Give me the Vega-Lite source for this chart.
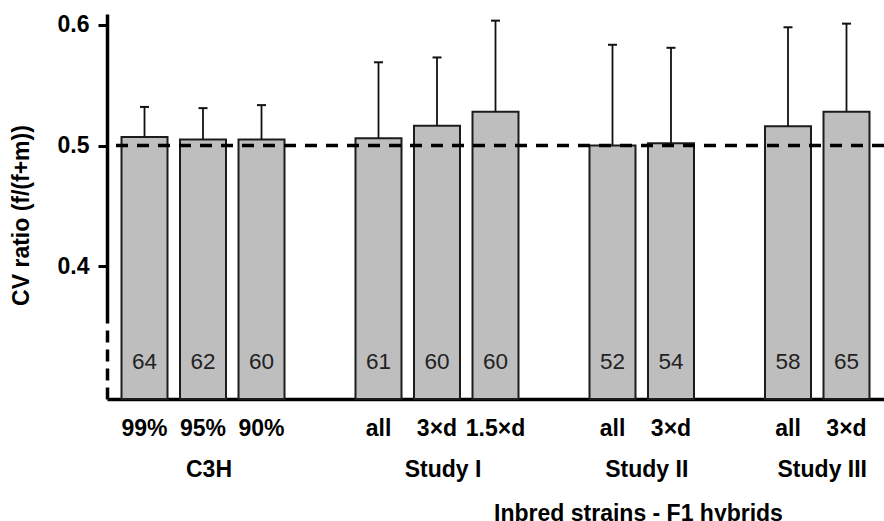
{
  "$schema": "https://vega.github.io/schema/vega-lite/v6.json",
  "width": 777,
  "height": 385,
  "autosize": {"type": "none"},
  "padding": {"left": 107, "top": 14, "right": 0, "bottom": 122},
  "background": "white",
  "config": {"view": {"stroke": null}, "font": "Liberation Sans"},
  "datasets": {
    "bars": [
      {"cat": "C3H|99%", "ratio": 0.507, "upper": 0.532, "n": 64},
      {"cat": "C3H|95%", "ratio": 0.505, "upper": 0.531, "n": 62},
      {"cat": "C3H|90%", "ratio": 0.505, "upper": 0.5335, "n": 60},
      {"cat": "Study I|all", "ratio": 0.506, "upper": 0.569, "n": 61},
      {"cat": "Study I|3×d", "ratio": 0.5165, "upper": 0.573, "n": 60},
      {"cat": "Study I|1.5×d", "ratio": 0.528, "upper": 0.6035, "n": 60},
      {"cat": "Study II|all", "ratio": 0.5, "upper": 0.5835, "n": 52},
      {"cat": "Study II|3×d", "ratio": 0.502, "upper": 0.581, "n": 54},
      {"cat": "Study III|all", "ratio": 0.516, "upper": 0.598, "n": 58},
      {"cat": "Study III|3×d", "ratio": 0.528, "upper": 0.601, "n": 65}
    ],
    "groupsOdd": [
      {"cat": "C3H|95%", "label": "C3H"},
      {"cat": "Study I|3×d", "label": "Study I"}
    ],
    "groupsEven": [
      {"cat": "Study II|all", "label": "Study II"},
      {"cat": "Study III|all", "label": "Study III"}
    ]
  },
  "layer": [
    {
      "data": {"name": "bars"},
      "mark": {"type": "bar", "fill": "#bebebe", "stroke": "#1c1c1c", "strokeWidth": 2},
      "encoding": {
        "x": {
          "field": "cat", "type": "nominal", "sort": null,
          "scale": {
            "domain": ["C3H|99%", "C3H|95%", "C3H|90%", "gap1", "Study I|all", "Study I|3×d", "Study I|1.5×d", "gap2", "Study II|all", "Study II|3×d", "gap3", "Study III|all", "Study III|3×d"],
            "paddingInner": 0.2137, "paddingOuter": 0.248
          },
          "axis": {
            "title": "Inbred strains - F1 hybrids",
            "labelExpr": "indexof(datum.value, 'gap') === 0 ? '' : split(datum.value, '|')[1]",
            "labelAngle": 0,
            "labelFontSize": 23, "labelFontWeight": "bold", "labelColor": "black",
            "labelPadding": 18, "ticks": false, "tickSize": 0,
            "domainColor": "black", "domainWidth": 3.5,
            "titleFontSize": 23, "titleFontWeight": "bold", "titleColor": "black",
            "titleX": 531, "titleY": 121.5, "titleAlign": "center", "titleBaseline": "alphabetic"
          }
        },
        "y": {
          "field": "ratio", "type": "quantitative",
          "scale": {"domain": [0.29, 0.609], "nice": false, "zero": false},
          "axis": {
            "title": "CV ratio (f/(f+m))",
            "values": [0.4, 0.5, 0.6], "format": ".1f", "grid": false,
            "labelFontSize": 23, "labelFontWeight": "bold", "labelColor": "black", "labelPadding": 9,
            "tickColor": "black", "tickWidth": 3, "tickSize": 9,
            "domainColor": "black", "domainWidth": 3.5,
            "domainDash": [12, 7, 12, 7, 12, 7, 12, 7, 400],
            "titleFontSize": 23, "titleFontWeight": "bold", "titleColor": "black",
            "titleAngle": 270, "titleX": -86, "titleY": 201, "titleAlign": "center", "titleBaseline": "middle"
          }
        },
        "y2": {"datum": 0.29}
      }
    },
    {
      "data": {"values": [{}]},
      "mark": {"type": "rule", "color": "black", "strokeWidth": 3.5, "strokeDash": [12, 9]},
      "encoding": {"y": {"datum": 0.5, "type": "quantitative"}}
    },
    {
      "data": {"name": "bars"},
      "mark": {"type": "rule", "color": "#111111", "strokeWidth": 1.8},
      "encoding": {
        "x": {"field": "cat", "type": "nominal", "sort": null},
        "y": {"field": "ratio", "type": "quantitative"},
        "y2": {"field": "upper"}
      }
    },
    {
      "data": {"name": "bars"},
      "mark": {"type": "tick", "color": "#111111", "size": 9, "thickness": 2, "opacity": 1},
      "encoding": {
        "x": {"field": "cat", "type": "nominal", "sort": null},
        "y": {"field": "upper", "type": "quantitative"}
      }
    },
    {
      "data": {"name": "bars"},
      "mark": {"type": "text", "fontSize": 22.5, "color": "#222222", "baseline": "middle"},
      "encoding": {
        "x": {"field": "cat", "type": "nominal", "sort": null},
        "y": {"datum": 0.3203, "type": "quantitative"},
        "text": {"field": "n", "type": "quantitative"}
      }
    },
    {
      "data": {"name": "groupsOdd"},
      "mark": {"type": "text", "fontSize": 23, "fontWeight": "bold", "color": "black", "baseline": "alphabetic", "dx": 6},
      "encoding": {
        "x": {"field": "cat", "type": "nominal", "sort": null},
        "y": {"datum": 0.225, "type": "quantitative"},
        "text": {"field": "label"}
      }
    },
    {
      "data": {"name": "groupsEven"},
      "mark": {"type": "text", "fontSize": 23, "fontWeight": "bold", "color": "black", "baseline": "alphabetic", "dx": 5},
      "encoding": {
        "x": {"field": "cat", "type": "nominal", "sort": null, "bandPosition": 1.136},
        "y": {"datum": 0.225, "type": "quantitative"},
        "text": {"field": "label"}
      }
    }
  ]
}
